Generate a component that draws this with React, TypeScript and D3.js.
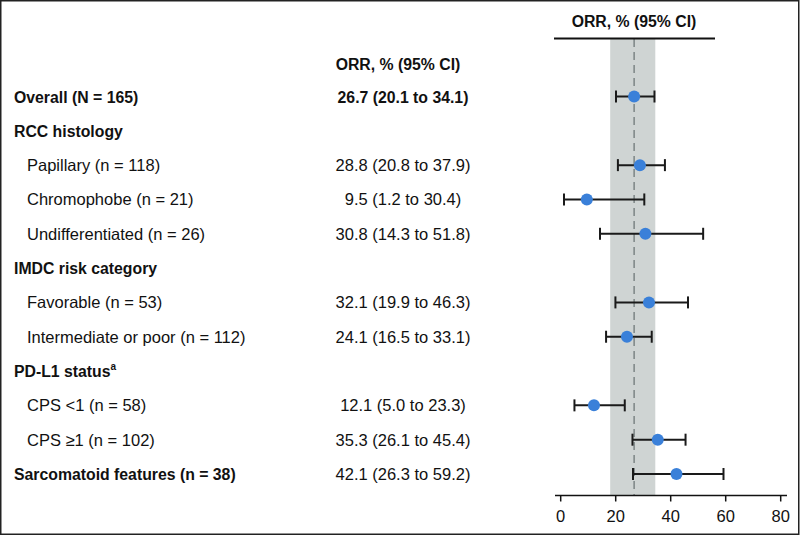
import React from 'react';
import * as d3 from 'd3';

// rows, top to bottom
const labels = [
  'Overall (N = 165)',
  'RCC histology',
  'Papillary (n = 118)',
  'Chromophobe (n = 21)',
  'Undifferentiated (n = 26)',
  'IMDC risk category',
  'Favorable (n = 53)',
  'Intermediate or poor (n = 112)',
  'PD-L1 status',
  'CPS <1 (n = 58)',
  'CPS ≥1 (n = 102)',
  'Sarcomatoid features (n = 38)',
];
const kinds = ['bold', 'head', 'sub', 'sub', 'sub', 'head', 'sub', 'sub', 'head', 'sub', 'sub', 'bold'];
const orr = [26.7, null, 28.8, 9.5, 30.8, null, 32.1, 24.1, null, 12.1, 35.3, 42.1];
const lower = [20.1, null, 20.8, 1.2, 14.3, null, 19.9, 16.5, null, 5.0, 26.1, 26.3];
const upper = [34.1, null, 37.9, 30.4, 51.8, null, 46.3, 33.1, null, 23.3, 45.4, 59.2];
const xTicks = [0, 20, 40, 60, 80];
const band = [18, 34.4];
const refLine = 26.7;

const W = 803;
const H = 536;

const App = () => {
  const x = d3.scaleLinear().domain([0, 80]).range([560.7, 780.7]);
  const y = d3.scaleLinear().domain([0, 11]).range([96.5, 474]);
  const axisY = 495.5;
  const font = '"Liberation Sans", Arial, Helvetica, sans-serif';
  const fmt = d3.format('.1f');
  const boldSize = 15.8;
  const regSize = 16.5;

  return (
    <div style={{ position: 'absolute', left: 0, top: 0 }}>
      <svg width={W} height={H} style={{ display: 'block', fontFamily: font }}>
        <rect x={0} y={0} width={W} height={H} fill="#fff" />
        <rect x={0.75} y={0.75} width={798} height={533.5} fill="none" stroke="#222" strokeWidth={1.5} />

        {/* reference band + dashed line */}
        <rect x={x(band[0])} y={39} width={x(band[1]) - x(band[0])} height={axisY - 39} fill="#cfd4d3" />
        <line x1={x(refLine)} x2={x(refLine)} y1={39} y2={axisY} stroke="#7d8584" strokeWidth={1.5} strokeDasharray="8,5" />

        {/* top header */}
        <text x={634} y={27} textAnchor="middle" fontSize={boldSize} fontWeight="bold" fill="#111">ORR, % (95% CI)</text>
        <line x1={554} x2={715} y1={38.5} y2={38.5} stroke="#111" strokeWidth={2} />

        {/* column header */}
        <text x={398} y={70} textAnchor="middle" fontSize={boldSize} fontWeight="bold" fill="#111">ORR, % (95% CI)</text>

        {labels.map((lab, i) => {
          const k = kinds[i];
          const yy = y(i);
          const v = orr[i];
          const bold = k !== 'sub';
          return (
            <g key={lab}>
              <text x={k === 'sub' ? 27 : 14} y={yy + 6} fontSize={bold ? boldSize : regSize} fontWeight={bold ? 'bold' : 'normal'} fill="#111">
                {lab}
                {i === 8 && <tspan dy={-7} fontSize={10}>a</tspan>}
              </text>
              {v != null && (
                <text x={403} y={yy + 6} textAnchor="middle" fontSize={i === 0 ? boldSize : regSize} fontWeight={i === 0 ? 'bold' : 'normal'} fill="#111">
                  {`${fmt(v)} (${fmt(lower[i] as number)} to ${fmt(upper[i] as number)})`}
                </text>
              )}
              {v != null && (
                <g stroke="#1a1a1a" strokeWidth={2}>
                  <line x1={x(lower[i] as number)} x2={x(upper[i] as number)} y1={yy} y2={yy} />
                  <line x1={x(lower[i] as number)} x2={x(lower[i] as number)} y1={yy - 6} y2={yy + 6} />
                  <line x1={x(upper[i] as number)} x2={x(upper[i] as number)} y1={yy - 6} y2={yy + 6} />
                </g>
              )}
              {v != null && <circle cx={x(v)} cy={yy} r={6} fill="#3a80d9" />}
            </g>
          );
        })}

        {/* x axis */}
        <line x1={555} x2={787} y1={axisY} y2={axisY} stroke="#111" strokeWidth={1.5} />
        {xTicks.map(t => (
          <g key={t}>
            <line x1={x(t)} x2={x(t)} y1={axisY} y2={axisY + 6} stroke="#111" strokeWidth={1.5} />
            <text x={x(t)} y={522} textAnchor="middle" fontSize={16.5} fill="#111">{t}</text>
          </g>
        ))}
      </svg>
    </div>
  );
};

export default App;
